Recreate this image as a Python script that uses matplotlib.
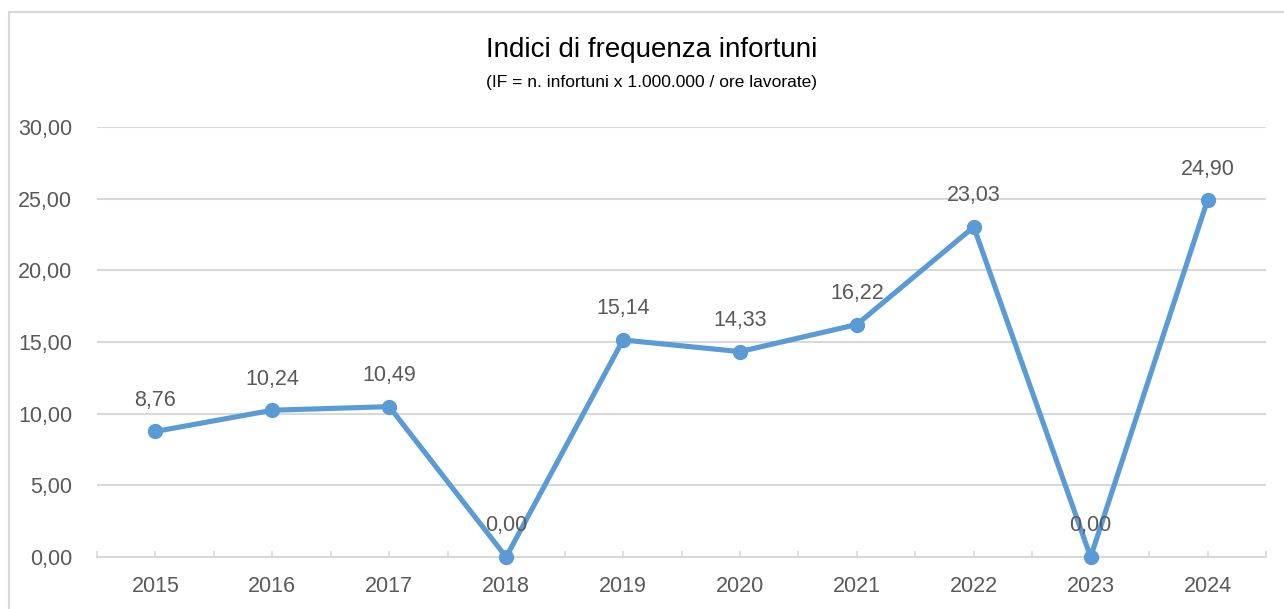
import matplotlib
matplotlib.use('Agg')
import matplotlib.pyplot as plt
from matplotlib.patches import Rectangle
from matplotlib.ticker import FuncFormatter, FixedLocator
import numpy as np

years = ['2015', '2016', '2017', '2018', '2019', '2020', '2021', '2022', '2023', '2024']
freq_index = [8.76, 10.24, 10.49, 0.00, 15.14, 14.33, 16.22, 23.03, 0.00, 24.90]
y_ticks = [0, 5, 10, 15, 20, 25, 30]

title = 'Indici di frequenza infortuni'
subtitle = '(IF = n. infortuni x 1.000.000 / ore lavorate)'


def it_num(v):
    return ('%.2f' % v).replace('.', ',')


def main():
    plt.rcParams['font.family'] = ['Liberation Sans Narrow', 'Liberation Sans', 'DejaVu Sans']
    grey = '#D9D9D9'
    txt = '#595959'
    blue = '#5B9BD5'

    fig = plt.figure(figsize=(12.84, 6.09), dpi=100)
    fig.patches.append(Rectangle((9 / 1284, -0.1), 1.2, 1.1 - 12 / 609, transform=fig.transFigure,
                                 fill=False, edgecolor=grey, lw=1.5))
    ax = fig.add_axes([97 / 1284, 1 - 557 / 609, (1266 - 97) / 1284, (557 - 127) / 609])

    x = np.arange(len(years))
    ax.plot(x, freq_index, color=blue, lw=3.7, marker='o', markersize=10, zorder=3,
            solid_joinstyle='round', clip_on=False)
    for xi, v in zip(x, freq_index):
        ax.annotate(it_num(v), (xi, v), xytext=(0, 31), textcoords='offset pixels',
                    ha='center', va='center', fontsize=15.5, color=txt, zorder=4)

    ax.set_xlim(-0.5, len(years) - 0.5)
    ax.set_ylim(0, 30)
    ax.set_xticks(x)
    ax.set_xticklabels(years)
    ax.xaxis.set_minor_locator(FixedLocator(np.arange(-0.5, len(years), 1.0)))
    ax.set_yticks(y_ticks)
    ax.yaxis.set_major_formatter(FuncFormatter(lambda v, p: it_num(v)))

    ax.tick_params(axis='x', which='both', direction='in', length=4.5, width=1.2,
                   color=grey, labelsize=15.5, labelcolor=txt, pad=14)
    ax.tick_params(axis='y', length=0, labelsize=15.5, labelcolor=txt, pad=18)
    ax.grid(axis='y', color=grey, lw=1.5)
    ax.set_axisbelow(True)
    for s in ['top', 'right', 'left']:
        ax.spines[s].set_visible(False)
    ax.spines['bottom'].set_color(grey)
    ax.spines['bottom'].set_linewidth(1.5)

    fig.text(652 / 1284, 1 - 50 / 609, title, ha='center', va='center', fontsize=20, color='black')
    fig.text(652 / 1284, 1 - 83 / 609, subtitle, ha='center', va='center', fontsize=12.5, color='black')

    plt.savefig('out.png', dpi=100)


if __name__ == "__main__":
    main()
